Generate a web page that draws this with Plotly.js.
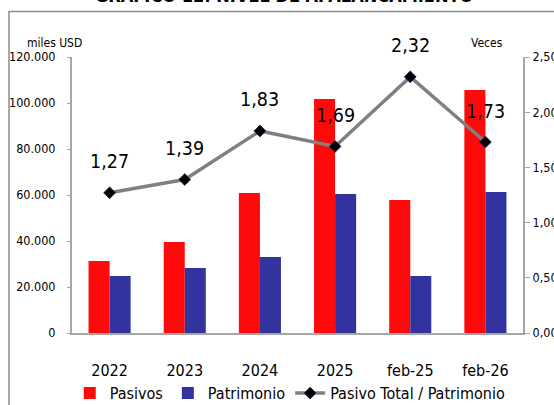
<!DOCTYPE html>
<html>
<head>
<meta charset="utf-8">
<script src="https://cdn.plot.ly/plotly-3.0.1.min.js"></script>
<style>html,body{margin:0;padding:0;background:#fff;}#chart{width:554px;height:405px;}
text{font-stretch:condensed;}</style>
</head>
<body>
<div id="chart"></div>
<script>
const categories = ["2022", "2023", "2024", "2025", "feb-25", "feb-26"];
const pasivos = [31300, 39600, 60900, 101700, 57800, 105600];
const patrimonio = [24800, 28300, 33000, 60400, 24800, 61300];
const ratio = [1.27, 1.39, 1.83, 1.69, 2.32, 1.73];
const ratioLabels = ["1,27", "1,39", "1,83", "1,69", "2,32", "1,73"];
const FONT = '"DejaVu Sans", sans-serif';

const traces = [
  {type: "bar", name: "Pasivos", x: categories, y: pasivos, marker: {color: "#FF0A0A"}, hoverinfo: "skip"},
  {type: "bar", name: "Patrimonio", x: categories, y: patrimonio, marker: {color: "#3333A0"}, hoverinfo: "skip"},
  {type: "scatter", mode: "lines+markers", name: "Pasivo Total / Patrimonio", x: categories, y: ratio, yaxis: "y2",
   line: {color: "#808080", width: 3.5}, marker: {symbol: "diamond", size: 9, color: "#000000", line: {color: "#2a1a5e", width: 1}}, hoverinfo: "skip"}
];

const annotations = categories.map((c, i) => ({
  x: i, y: ratio[i], xref: "x", yref: "y2", text: ratioLabels[i], showarrow: false,
  yshift: 31, font: {family: FONT, size: 19.5, color: "#000"}
}));
annotations.push({xref: "paper", yref: "paper", x: -0.038, y: 1.083, text: "miles USD", showarrow: false, xanchor: "center",
  font: {family: FONT, size: 12, color: "#000"}});
annotations.push({xref: "paper", yref: "paper", x: 0.92, y: 1.083, text: "Veces", showarrow: false, xanchor: "center",
  font: {family: FONT, size: 12, color: "#000"}});
annotations.push({xref: "paper", yref: "paper", x: 0.47, y: 1.178, yanchor: "bottom", text: "<b>GRÁFICO 12: NIVEL DE APALANCAMIENTO</b>", showarrow: false,
  font: {family: FONT, size: 18, color: "#000"}});

const layout = {
  width: 554, height: 405,
  margin: {l: 72, r: 31, t: 57, b: 72, pad: 0, autoexpand: false},
  paper_bgcolor: "#fff", plot_bgcolor: "#fff",
  separators: ",.",
  font: {family: FONT, color: "#000"},
  barmode: "group", bargap: 0.44, bargroupgap: 0,
  showlegend: true,
  legend: {orientation: "h", x: -0.005, xanchor: "left", y: -0.218, yanchor: "middle",
    font: {family: FONT, size: 16, color: "#000"}, itemwidth: 30, tracegroupgap: 0},
  xaxis: {type: "category", range: [-0.5, 5.5], showline: true, linecolor: "#A6A6A6", linewidth: 2, ticks: "", showgrid: false,
    tickfont: {family: FONT, size: 16, color: "#000"}, ticklabelstandoff: 22},
  yaxis: {range: [0, 120000], dtick: 20000, tickformat: ",.0f", showline: true, linecolor: "#A6A6A6", linewidth: 2,
    showgrid: false, zeroline: false, ticks: "outside", ticklen: 3, tickcolor: "#A6A6A6",
    tickfont: {family: FONT, size: 12.5, color: "#000"}, ticklabelstandoff: 9},
  yaxis2: {overlaying: "y", side: "right", range: [0, 2.5], dtick: 0.5, tickformat: ".2f", showline: true,
    linecolor: "#A6A6A6", linewidth: 2, showgrid: false, zeroline: false, ticks: "outside", ticklen: 5, tickcolor: "#A6A6A6",
    tickfont: {family: FONT, size: 12.5, color: "#000"}},
  annotations: annotations,
  shapes: [{type: "rect", xref: "paper", yref: "paper", x0: -0.1397, x1: 1.3, y0: -0.5, y1: 1.165,
    line: {color: "#8C8C8C", width: 1.5}, fillcolor: "rgba(0,0,0,0)", layer: "below"}]
};

Plotly.newPlot("chart", traces, layout, {staticPlot: true, displayModeBar: false}).then(gd => {
  gd.querySelectorAll(".legend path.legendbar, .legend .legendpoints path.point").forEach(p => {
    if (p.closest(".legendbar") || p.classList.contains("legendbar")) p.setAttribute("d", "M10,7H-10V-7H10Z");
  });
});
</script>
</body>
</html>
